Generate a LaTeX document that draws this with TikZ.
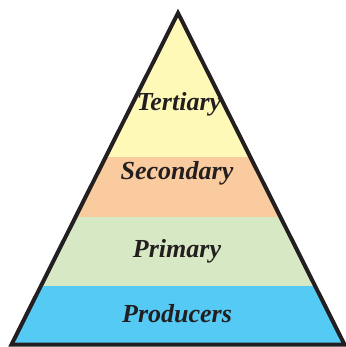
\documentclass[tikz,border=0pt]{standalone}
\usepackage{fontspec}
\setmainfont{Liberation Serif}
\definecolor{tertcol}{HTML}{FFF9B8}
\definecolor{secocol}{HTML}{FACB9E}
\definecolor{primcol}{HTML}{D7E8C4}
\definecolor{prodcol}{HTML}{55CAF4}
\definecolor{inkcol}{HTML}{231F20}
\tikzset{level/.style={font=\fontsize{26}{29}\selectfont\bfseries\itshape, text=inkcol}}
\begin{document}
\begin{tikzpicture}[x=1pt,y=-1pt]
\useasboundingbox (0,0) rectangle (345,347);
\begin{scope}
\clip (11.5,344.5) -- (178,13) -- (344.5,344.5) -- cycle;
\fill[tertcol] (0,0) rectangle (345,157);
\fill[secocol] (0,157) rectangle (345,217);
\fill[primcol] (0,217) rectangle (345,286);
\fill[prodcol] (0,286) rectangle (345,347);
\end{scope}
\draw[line width=4pt, inkcol] (11.5,344.5) -- (178,13) -- (344.5,344.5) -- cycle;

\node[level] (tert) at (179,104) {Tertiary};
\node[level] (seco) at (177,173) {Secondary};
\node[level] (prim) at (177,251) {Primary};
\node[level] (prod) at (177,314) {Producers};
\end{tikzpicture}
\end{document}
